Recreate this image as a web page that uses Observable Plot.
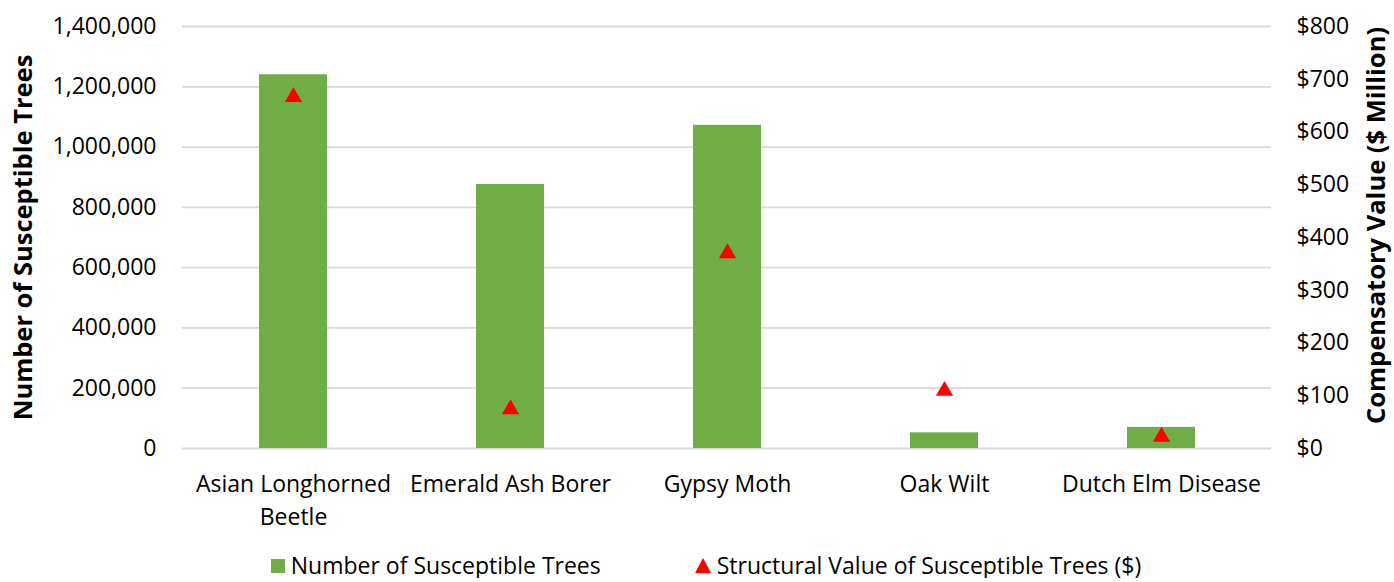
<!DOCTYPE html>
<html><head><meta charset="utf-8">
<script src="https://cdn.jsdelivr.net/npm/d3@7"></script>
<script src="https://cdn.jsdelivr.net/npm/@observablehq/plot@0.6"></script>
<style>
html,body{margin:0;background:#fff;font-family:"Open Sans",sans-serif;color:#000;overflow:hidden;}
#chart{height:535px;}
#legend{display:flex;justify-content:center;align-items:center;height:25px;font-size:23px;line-height:1;padding-left:18px;padding-top:18px;}
.item{display:flex;align-items:center;}
.sw{width:14px;height:14px;background:#70ad47;margin-right:6px;}
.tri{width:0;height:0;border-left:8.5px solid transparent;border-right:8.5px solid transparent;border-bottom:15px solid #ff0000;margin-right:6px;}
</style></head><body>
<div id="chart"></div>
<div id="legend">
  <div class="item" style="margin-right:94px"><div class="sw"></div><span>Number of Susceptible Trees</span></div>
  <div class="item"><div class="tri"></div><span>Structural Value of Susceptible Trees ($)</span></div>
</div>
<script>
const categories = ["Asian Longhorned Beetle", "Emerald Ash Borer", "Gypsy Moth", "Oak Wilt", "Dutch Elm Disease"];
const categoryLabels = ["Asian Longhorned\nBeetle", "Emerald Ash Borer", "Gypsy Moth", "Oak Wilt", "Dutch Elm Disease"];
const susceptibleTrees = [1240000, 876000, 1072000, 52000, 70000];
const valueMillions = [672, 80, 376, 115, 28];
const leftTicks = [0, 200000, 400000, 600000, 800000, 1000000, 1200000, 1400000];
const rightTicks = [0, 100, 200, 300, 400, 500, 600, 700, 800];
const leftTitle = "Number of Susceptible Trees";
const rightTitle = "Compensatory Value ($ Million)";

const ratio = 1400000 / 800;
const data = categories.map((c, i) => ({category: c, trees: susceptibleTrees[i], value: valueMillions[i]}));
const labelOf = new Map(categories.map((c, i) => [c, categoryLabels[i]]));

const plot = Plot.plot({
  width: 1394,
  height: 535,
  marginTop: 26,
  marginBottom: 87,
  marginLeft: 182,
  marginRight: 123,
  style: {fontFamily: "Open Sans, sans-serif", fontSize: "23px", color: "#000", background: "#fff", display: "block"},
  x: {domain: categories, paddingInner: 0.688, paddingOuter: 0.344, label: null},
  y: {domain: [0, 1400000], label: null},
  marks: [
    Plot.gridY(leftTicks, {stroke: "#d9d9d9", strokeOpacity: 1, strokeWidth: 1.8}),
    Plot.barY(data, {x: "category", y: "trees", fill: "#70ad47"}),
    Plot.dot(data, {x: "category", y: d => d.value * ratio, symbol: "triangle", r: 6.4, fill: "#ff0000", stroke: null, dy: 3}),
    Plot.axisX({tickSize: 0, tickPadding: 21, tickFormat: d => labelOf.get(d), fontSize: 23, lineHeight: 1.4, label: null}),
    Plot.axisY(leftTicks, {anchor: "left", tickSize: 0, tickPadding: 26, tickFormat: d3.format(","), fontSize: 23, label: null}),
    Plot.axisY(rightTicks.map(v => v * ratio), {anchor: "right", tickSize: 0, tickPadding: 25, fontSize: 23, tickFormat: d => "$" + Math.round(d / ratio), label: null}),
    Plot.text([leftTitle], {text: d => d, frameAnchor: "left", rotate: -90, dx: -159, textAnchor: "middle", lineAnchor: "middle", fontWeight: "bold", fontSize: 25.5, fill: "#000"}),
    Plot.text([rightTitle], {text: d => d, frameAnchor: "right", rotate: -90, dx: 105, dy: -12, textAnchor: "middle", lineAnchor: "middle", fontWeight: "bold", fontSize: 25.5, fill: "#000"})
  ]
});
document.getElementById("chart").appendChild(plot);
</script>
</body></html>
